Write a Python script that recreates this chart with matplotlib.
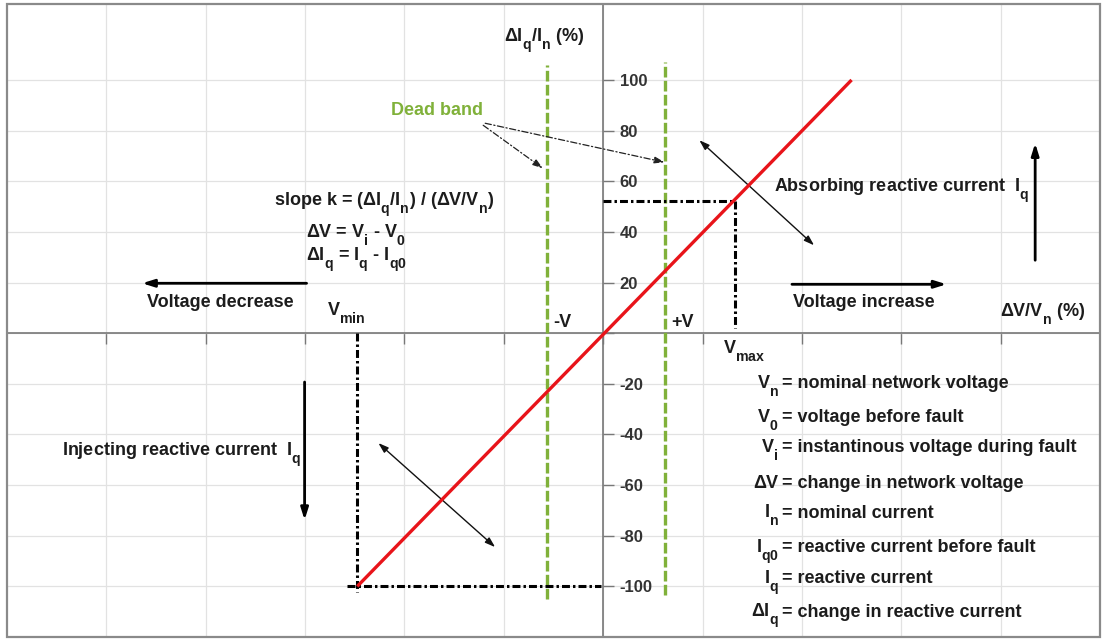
import matplotlib
matplotlib.use("Agg")
import matplotlib.pyplot as plt
import matplotlib._mathtext as mathtext_internals
from matplotlib.patches import Rectangle

plt.rcParams['font.family'] = ['Liberation Sans', 'DejaVu Sans']
plt.rcParams['font.weight'] = 'bold'
plt.rcParams['mathtext.fontset'] = 'custom'
plt.rcParams['mathtext.rm'] = 'Liberation Sans:bold'
plt.rcParams['mathtext.it'] = 'Liberation Sans:bold'
plt.rcParams['mathtext.bf'] = 'Liberation Sans:bold'
plt.rcParams['mathtext.default'] = 'rm'

# bigger, lower subscripts (Iq, Vn, ...)
mathtext_internals.SHRINK_FACTOR = 0.78
mathtext_internals.FontConstantsBase.sub1 = 0.85

# characteristic: reactive current change vs voltage change (%)
dv_line = [-99, 100]
diq_line = [-100, 100]

# operating limits
v_min = -99
iq_at_vmin = -100
v_max = 53
iq_at_vmax = 52

# dead band edges (-V, +V) and how far the markers run
dead_band = [-22.7, 24.7]
dead_band_top = [106, 107]
dead_band_bottom = [-105, -103.5]

iq_ticks = [-100, -80, -60, -40, -20, 0, 20, 40, 60, 80, 100]
iq_labels = ['-100', '-80', '-60', '-40', '-20', '', '20', '40', '60', '80', '100']
dv_ticks = [-200, -160, -120, -80, -40, 0, 40, 80, 120, 160]

symbols = [r'V$_n$', r'V$_0$', r'V$_i$', 'ΔV', r'I$_n$', r'I$_{q0}$', r'I$_q$', r'ΔI$_q$']
meanings = ['nominal network voltage', 'voltage before fault',
            'instantinous voltage during fault', 'change in network voltage',
            'nominal current', 'reactive current before fault',
            'reactive current', 'change in reactive current']

TXT = '#1c1c1c'
GREEN = '#80b13a'
FS = 13

fig = plt.figure(figsize=(11.02, 6.39), dpi=100)
ax = fig.add_axes([7 / 1102, 2 / 639, 1093 / 1102, 633 / 639])
ax.set_xlim(-240, 200)
ax.set_ylim(-120, 130)

for s in ['left', 'top']:
    ax.spines[s].set_visible(False)
ax.spines['right'].set_position(('data', 0))
ax.spines['bottom'].set_position(('data', 0))
for s in ['right', 'bottom']:
    ax.spines[s].set_color('#787878')
    ax.spines[s].set_linewidth(1.2)
ax.add_patch(Rectangle((0, 0), 1, 1, transform=ax.transAxes, fill=False,
                       ec='#8a8a8a', lw=1.6, clip_on=False, zorder=6))

ax.yaxis.tick_right()
ax.set_yticks(iq_ticks, labels=iq_labels, fontweight='bold')
ax.set_xticks(dv_ticks, labels=[])
ax.tick_params(axis='y', direction='out', length=8, width=1, color='#787878',
               pad=4, labelsize=12, labelcolor='#333333')
ax.tick_params(axis='x', direction='out', length=8, width=1, color='#787878')
ax.grid(True, color='#e2e2e2', lw=0.9)
ax.set_axisbelow(True)

dashdot = (0, (2.6, 1.0, 0.8, 1.0))

# dead band markers
for x, y0, y1 in zip(dead_band, dead_band_bottom, dead_band_top):
    ax.plot([x, x], [y0, y1], color=GREEN, lw=2.4, ls=(0, (3.2, 1.0)), zorder=3)

# limit construction lines
ax.plot([0, v_max, v_max], [iq_at_vmax, iq_at_vmax, 2], color='black', lw=2.2,
        ls=dashdot, zorder=3)
ax.plot([v_min, v_min], [0, iq_at_vmin - 2.2], color='black', lw=2.2, ls=dashdot, zorder=3)
ax.plot([v_min - 4, -1], [iq_at_vmin, iq_at_vmin], color='black', lw=2.2, ls=dashdot, zorder=3)

# characteristic
ax.plot(dv_line, diq_line, color='#e8141a', lw=2.4, zorder=4, solid_capstyle='butt')

# direction arrows
big = dict(arrowstyle='-|>,head_length=0.7,head_width=0.22', color='black', lw=2,
           shrinkA=0, shrinkB=0)
ax.annotate('', xy=(-185.6, 19.7), xytext=(-119.4, 19.7), arrowprops=big)
ax.annotate('', xy=(138.2, 19.3), xytext=(76.0, 19.3), arrowprops=big)
ax.annotate('', xy=(173.9, 75), xytext=(173.9, 28.8), arrowprops=big)
ax.annotate('', xy=(-120.2, -73.8), xytext=(-120.2, -19.3), arrowprops=big)

thin = dict(arrowstyle='<|-|>,head_length=0.6,head_width=0.2', color='#111111', lw=1,
            shrinkA=0, shrinkB=0)
ax.annotate('', xy=(38.7, 76.2), xytext=(84.9, 34.7), arrowprops=thin)
ax.annotate('', xy=(-90.5, -43.4), xytext=(-43.5, -84.5), arrowprops=thin)

band = dict(arrowstyle='-|>,head_length=0.6,head_width=0.2', color='#222222', lw=0.9,
            ls=(0, (5, 2, 1, 2)), shrinkA=0, shrinkB=0)
ax.annotate('', xy=(-24.3, 65.1), xytext=(-48.3, 82.1), arrowprops=band)
ax.annotate('', xy=(24.7, 67.5), xytext=(-47.5, 82.9), arrowprops=band)

txt = dict(color=TXT, fontsize=FS, fontweight='bold', va='baseline', ha='left')
ax.text(-23.9, 115, r'ΔI$_q$/I$_n$ (%)', ha='center', va='baseline', color=TXT,
        fontsize=FS, fontweight='bold')
ax.text(159.6, 6.7, r'ΔV/V$_n$ (%)', **txt)
ax.text(-85.6, 86, 'Dead band', color=GREEN, fontsize=FS, fontweight='bold',
        va='baseline', ha='left')
ax.text(-132.6, 50.5, r'slope k = (ΔI$_q$/I$_n$) / (ΔV/V$_n$)', **txt)
ax.text(-119.8, 37.9, r'ΔV = V$_i$ - V$_0$', **txt)
ax.text(-119.8, 28.8, r'ΔI$_q$ = I$_q$ - I$_{q0}$', **txt)
ax.text(-183.6, 10.3, 'Voltage decrease', **txt)
ax.text(76.5, 10.3, 'Voltage increase', **txt)
ax.text(-111, 7.1, r'V$_{min}$', **txt)
ax.text(48.3, -7.9, r'V$_{max}$', **txt)
ax.text(-19.9, 2.4, '-V', **txt)
ax.text(27.5, 2.4, '+V', **txt)
ax.text(68.8, 56, r'Absorbing reactive current  I$_q$', **txt)
ax.text(-217.7, -48.2, r'Injecting reactive current  I$_q$', **txt)

# symbol definitions
rows_y = [-21.7, -35.1, -47.0, -61.2, -73.0, -86.5, -98.7, -112.0]
for sym, desc, y in zip(symbols, meanings, rows_y):
    ax.text(70.6, y, sym, color=TXT, fontsize=FS, fontweight='bold', va='baseline', ha='right')
    ax.text(72.0, y, '= ' + desc, **txt)

fig.savefig('out.png', dpi=100)
